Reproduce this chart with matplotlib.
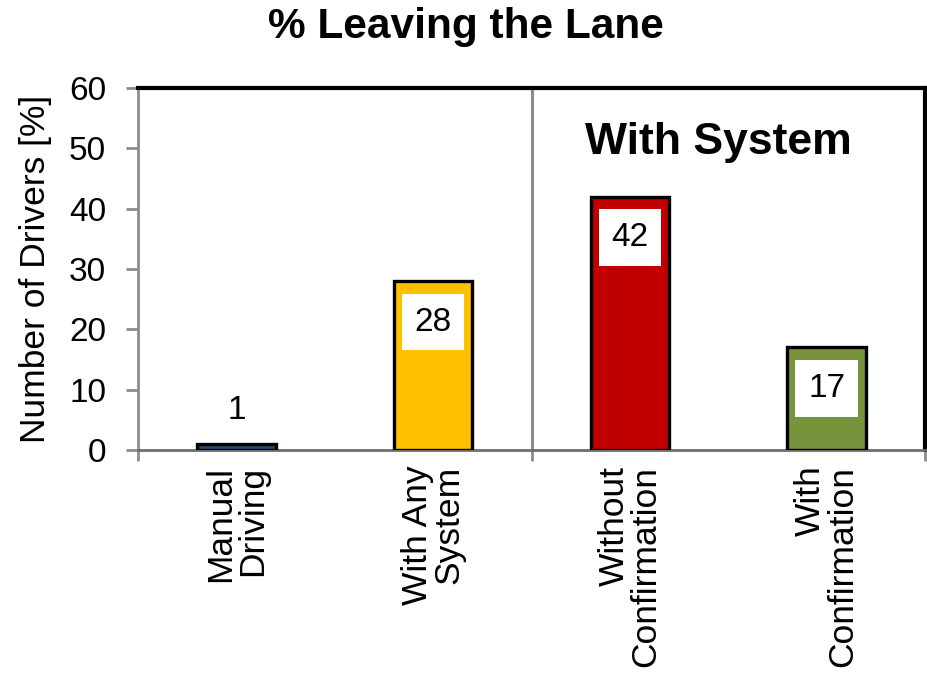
import numpy as np
import matplotlib.pyplot as plt

plt.rcParams['font.family'] = ['Liberation Sans', 'DejaVu Sans']

categories = ['Manual\nDriving', 'With Any\nSystem', 'Without\nConfirmation', 'With\nConfirmation']
values = [1, 28, 42, 17]
colors = ['#1F4E79', '#FFC000', '#C00000', '#77933C']

fig = plt.figure(figsize=(9.28, 6.73), dpi=100)
ax = fig.add_axes([0.1487, 0.3314, 0.8481, 0.5378])

x = np.arange(len(categories))
bars = ax.bar(x, values, width=0.4, color=colors, edgecolor='black', linewidth=2.4, zorder=3)

for xi, v in zip(x, values):
    if v < 5:
        ax.annotate(str(v), xy=(xi, v), xytext=(0, 24), textcoords='offset points',
                    ha='center', va='center', fontsize=24, zorder=5)
    else:
        ax.annotate(str(v), xy=(xi, v), xytext=(0, -29.5), textcoords='offset points',
                    ha='center', va='center', fontsize=24, zorder=5,
                    bbox=dict(boxstyle='square,pad=0.38', facecolor='white', edgecolor='none'))

# divider between groups
ax.axvline(1.5, color='#8C8C8C', linewidth=2.2, zorder=2)
ax.text(2.45, 50.9, 'With System', ha='center', va='center', fontsize=32, fontweight='bold')

ax.set_xlim(-0.5, 3.5)
ax.set_ylim(0, 60)
ax.set_yticks(np.arange(0, 61, 10))
ax.tick_params(axis='y', labelsize=24, direction='out', length=9, width=2, color='#8C8C8C', pad=14)

ax.set_xticks(x)
ax.set_xticklabels([])
ax.tick_params(axis='x', which='major', length=0)
ax.set_xticks([-0.5, 1.5, 3.5], minor=True)
ax.tick_params(axis='x', which='minor', length=8, width=2, color='#8C8C8C')

for xi, lab in zip(x, categories):
    ax.text(xi, -2.6, lab, rotation=90, ha='center', va='top', multialignment='right',
            fontsize=25.5, linespacing=0.95)

ax.spines['left'].set_color('#8C8C8C')
ax.spines['left'].set_linewidth(2)
ax.spines['bottom'].set_color('#6E6E6E')
ax.spines['bottom'].set_linewidth(2)
ax.spines['top'].set_color('black')
ax.spines['top'].set_linewidth(3)
ax.spines['right'].set_color('black')
ax.spines['right'].set_linewidth(3)

ax.set_ylabel('Number of Drivers [%]', fontsize=25.5, labelpad=12)
fig.text(0.502, 0.96, '% Leaving the Lane', ha='center', va='center', fontsize=30.5, fontweight='bold')

fig.savefig('out.png', dpi=100)
